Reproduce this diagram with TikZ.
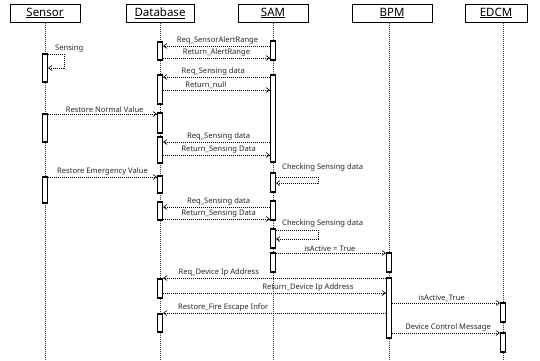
\documentclass[tikz,border=0pt]{standalone}
\usepackage{fontspec}
\setmainfont{Noto Sans}
\usetikzlibrary{arrows.meta}
\begin{document}
\begin{tikzpicture}[x=1pt,y=-1pt,
  head/.style={draw, line width=1pt, minimum height=18pt, inner sep=0pt, font=\fontsize{11.5}{12}\selectfont},
  life/.style={dash pattern=on 1pt off 1pt, line width=0.6pt, black!75},
  actbox/.style={draw, fill=white, line width=1.1pt, minimum width=5pt, inner sep=0pt},
  msg/.style={dash pattern=on 1.2pt off 0.8pt, line width=0.6pt, -{Straight Barb[length=3.5pt,width=5pt]}},
  lbl/.style={font=\fontsize{7.6}{8}\selectfont, inner sep=0pt, text=black!85}]
\useasboundingbox (0,0) rectangle (540,360);
% headers
\node[head, minimum width=70pt] (Sensor) at (45,13) {\underline{Sensor}};
\node[head, minimum width=68pt] (Database) at (160,13) {\underline{Database}};
\node[head, minimum width=70pt] (SAM) at (273,13) {\underline{SAM}};
\node[head, minimum width=80pt] (BPM) at (392,13) {\underline{BPM}};
\node[head, minimum width=62pt] (EDCM) at (496,13) {\underline{EDCM}};
% lifeline ends
\coordinate (Ls) at (45,360);
\coordinate (Ld) at (160,360);
\coordinate (Lm) at (273,360);
\coordinate (Lb) at (389,360);
\coordinate (Le) at (503,360);
\draw[life] (Sensor.south -| Ls) -- (Ls);
\draw[life] (Database.south -| Ld) -- (Ld);
\draw[life] (SAM.south -| Lm) -- (Lm);
\draw[life] (BPM.south -| Lb) -- (Lb);
\draw[life] (EDCM.south -| Le) -- (Le);
% activations
\node[actbox, minimum height=28pt] (s1) at (45,68) {};
\node[actbox, minimum height=28pt] (s2) at (45,128) {};
\node[actbox, minimum height=26pt] (s3) at (45,190) {};
\node[actbox, minimum height=18pt] (d1) at (160,51) {};
\node[actbox, minimum height=29pt] (d2) at (160,89.5) {};
\node[actbox, minimum height=20pt] (d3) at (160,123) {};
\node[actbox, minimum height=26pt] (d4) at (160,150) {};
\node[actbox, minimum height=17pt] (d5) at (160,184.5) {};
\node[actbox, minimum height=18pt] (d6) at (160,211) {};
\node[actbox, minimum height=19pt] (d7) at (160,288.5) {};
\node[actbox, minimum height=18pt] (d8) at (160,323) {};
\node[actbox, minimum height=19pt] (m1) at (273,50.5) {};
\node[actbox, minimum height=87pt] (m2) at (273,118.5) {};
\node[actbox, minimum height=19pt] (m3) at (273,182.5) {};
\node[actbox, minimum height=19pt] (m4) at (273,210.5) {};
\node[actbox, minimum height=19pt] (m5) at (273,238.5) {};
\node[actbox, minimum height=19pt] (m6) at (273,262.5) {};
\node[actbox, minimum height=19pt] (b1) at (389,262.5) {};
\node[actbox, minimum height=60pt] (b2) at (389,308) {};
\node[actbox, minimum height=19pt] (e1) at (503,312.5) {};
\node[actbox, minimum height=19pt] (e2) at (503,342.5) {};
% messages
\draw[msg] (m1.west |- 0,46) -- (d1.east |- 0,46) node[lbl, above=1.5pt, pos=0.49] {Req\_SensorAlertRange};
\draw[msg] (d1.east |- 0,58) -- (m1.west |- 0,58) node[lbl, above=1.5pt, pos=0.5] {Return\_AlertRange};
\draw[msg] (s1.east |- 0,54) -- ++(16,0) -- ++(0,14) -- (s1.east |- 0,68);
\node[lbl, anchor=west] (sensing) at (55,49) {Sensing};
\draw[msg] (m2.west |- 0,77) -- (d2.east |- 0,77) node[lbl, above=1.5pt, pos=0.53] {Req\_Sensing data};
\draw[msg] (d2.east |- 0,90) -- (m2.west |- 0,90) node[lbl, above=1.5pt, pos=0.40] {Return\_null};
\draw[msg] (s2.east |- 0,114) -- (d3.west |- 0,114) node[lbl, above=1.5pt, pos=0.52] {Restore Normal Value};
\draw[msg] (m2.west |- 0,142) -- (d4.east |- 0,142) node[lbl, above=1.5pt, pos=0.48] {Req\_Sensing data};
\draw[msg] (d4.east |- 0,155) -- (m2.west |- 0,155) node[lbl, above=1.5pt, pos=0.52] {Return\_Sensing Data};
\draw[msg] (m3.east |- 0,177) -- ++(42,0) -- ++(0,6) -- (m3.east |- 0,183);
\node[lbl, anchor=west] (chk1) at (282,168) {Checking Sensing data};
\draw[msg] (s3.east |- 0,177) -- (d5.west |- 0,177) node[lbl, above=1.5pt, pos=0.50] {Restore Emergency Value};
\draw[msg] (m4.west |- 0,207) -- (d6.east |- 0,207) node[lbl, above=1.5pt, pos=0.48] {Req\_Sensing data};
\draw[msg] (d6.east |- 0,219) -- (m4.west |- 0,219) node[lbl, above=1.5pt, pos=0.52] {Return\_Sensing Data};
\draw[msg] (m5.east |- 0,230) -- ++(42,0) -- ++(0,9) -- (m5.east |- 0,239);
\node[lbl, anchor=west] (chk2) at (282,224) {Checking Sensing data};
\draw[msg] (m6.east |- 0,253) -- (b1.west |- 0,253) node[lbl, above=1.5pt, pos=0.49] {isActive = True};
\draw[msg] (b2.west |- 0,278) -- (d7.east |- 0,278) node[lbl, above=1.5pt, pos=0.75] {Req\_Device Ip Address};
\draw[msg] (d7.east |- 0,293) -- (b2.west |- 0,293) node[lbl, above=1.5pt, pos=0.65] {Return\_Device Ip Address};
\draw[msg] (b2.east |- 0,303) -- (e1.west |- 0,303) node[lbl, above=1.5pt, pos=0.46] {isActive\_True};
\draw[msg] (b2.west |- 0,313) -- (d8.east |- 0,313) node[lbl, above=1.5pt, pos=0.73] {Restore\_Fire Escape Infor};
\draw[msg] (b2.east |- 0,333) -- (e2.west |- 0,333) node[lbl, above=1.5pt, pos=0.52] {Device Control Message};
\end{tikzpicture}
\end{document}
